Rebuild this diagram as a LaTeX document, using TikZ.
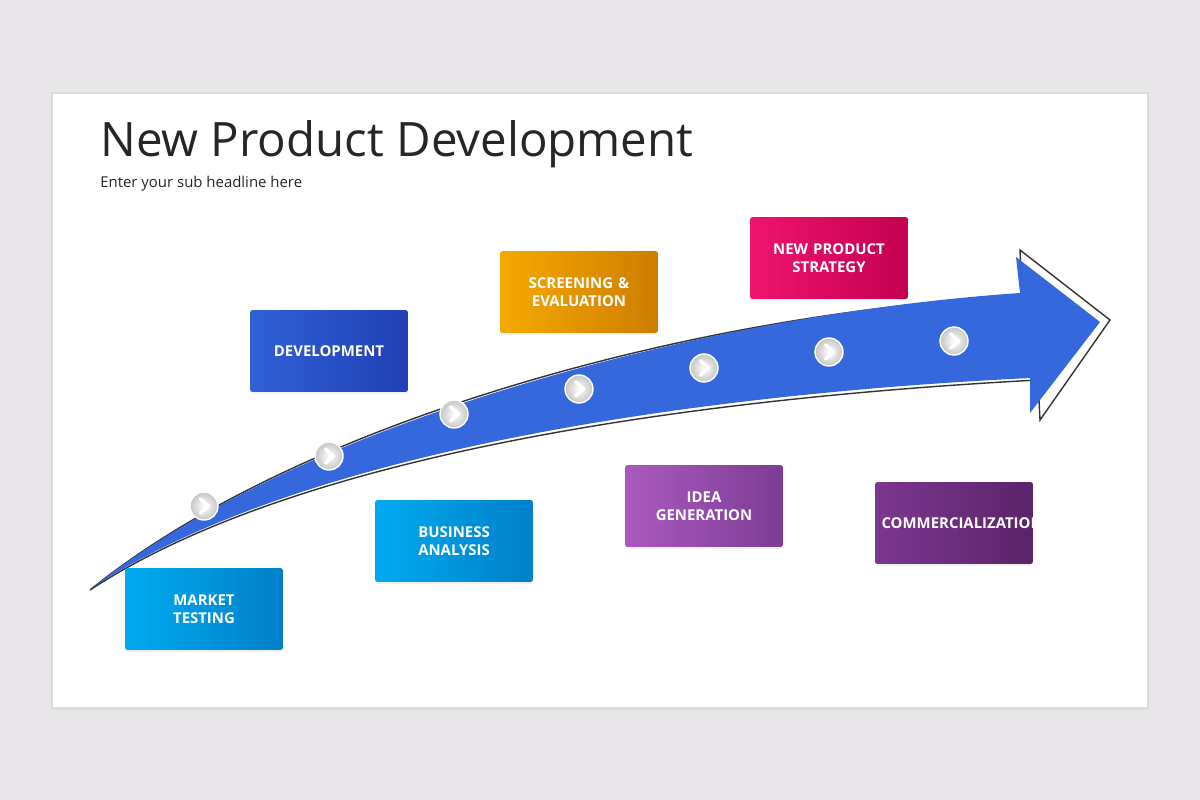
\documentclass[tikz,border=0pt]{standalone}
\usepackage{fontspec}
\setmainfont{Open Sans}
\usetikzlibrary{shapes,arrows,positioning,shadows}
\definecolor{pagegray}{RGB}{232,230,232}
\definecolor{arrowblue}{RGB}{52,104,220}
\definecolor{cyanA}{RGB}{0,170,240}\definecolor{cyanB}{RGB}{0,128,200}
\definecolor{blueA}{RGB}{48,96,215}\definecolor{blueB}{RGB}{32,64,180}
\definecolor{orangeA}{RGB}{245,170,0}\definecolor{orangeB}{RGB}{205,125,0}
\definecolor{purpA}{RGB}{170,90,190}\definecolor{purpB}{RGB}{125,60,150}
\definecolor{pinkA}{RGB}{240,20,110}\definecolor{pinkB}{RGB}{195,0,80}
\definecolor{plumA}{RGB}{125,55,145}\definecolor{plumB}{RGB}{90,35,105}
\tikzset{
  stage/.style={rectangle, rounded corners=1.5pt, minimum width=3.16cm, minimum height=1.64cm,
    text width=2.9cm, align=center, text=white, font=\bfseries\fontsize{8.5}{10}\selectfont,
    drop shadow={opacity=0.12, shadow xshift=0pt, shadow yshift=-1pt}},
  stepdot/.style={circle, minimum size=0.56cm, inner sep=0pt, draw=white, line width=0.8pt,
    inner color=white, outer color=gray!45}
}
\begin{document}
\begin{tikzpicture}[x=0.02cm,y=-0.02cm]

	%page and card
	\fill[pagegray] (0,0) rectangle (1200,800);
	\fill[black,opacity=0.05] (51,92) rectangle (1149,710);
	\fill[white] (53,94) rectangle (1147,707);

	\node[anchor=base west, inner sep=0pt, font=\fontsize{27}{30}\selectfont, text=black!85] (title) at (100,157) {New Product Development};
	\node[anchor=base west, inner sep=0pt, font=\fontsize{8.5}{10}\selectfont, text=black!85] (sub) at (100,188) {Enter your sub headline here};

	%arrow outline (shadow) and body
	\draw[black!80, line width=0.8pt, fill=white]
		(90,590) .. controls (300,420) and (700,312) .. (1022,296)
		-- (1020,250) -- (1110,320) -- (1040,420) -- (1038,380)
		.. controls (700,398) and (300,452) .. (90,590) -- cycle;
	\fill[arrowblue]
		(92,588) .. controls (300,423) and (700,315) .. (1020,293)
		-- (1016,257) -- (1100,322) -- (1030,413) -- (1030,378)
		.. controls (700,394) and (300,450) .. (92,588) -- cycle;

	%steps on the arrow
	\foreach \n/\x/\y in {s1/204/506, s2/329/456, s3/454/414, s4/579/389, s5/704/368, s6/829/352, s7/954/341}{
		\node[stepdot] (\n) at (\x,\y) {};
		\draw[white, line width=2pt, line cap=round, line join=round]
			([xshift=-2pt,yshift=4pt]\n.center) -- ([xshift=2.5pt]\n.center) -- ([xshift=-2pt,yshift=-4pt]\n.center);
	}

	%stages
	\node[stage, left color=cyanA, right color=cyanB] (market) at (204,609) {MARKET\\TESTING};
	\node[stage, left color=blueA, right color=blueB] (devel) at (329,351) {DEVELOPMENT};
	\node[stage, left color=cyanA, right color=cyanB] (business) at (454,541) {BUSINESS\\ANALYSIS};
	\node[stage, left color=orangeA, right color=orangeB] (screen) at (579,292) {SCREENING \&\\EVALUATION};
	\node[stage, left color=purpA, right color=purpB] (idea) at (704,506) {IDEA\\GENERATION};
	\node[stage, left color=pinkA, right color=pinkB] (strategy) at (829,258) {NEW PRODUCT\\STRATEGY};
	\node[stage, left color=plumA, right color=plumB] (commerce) at (954,523) {COMMERCIALIZATION};

\end{tikzpicture}
\end{document}
